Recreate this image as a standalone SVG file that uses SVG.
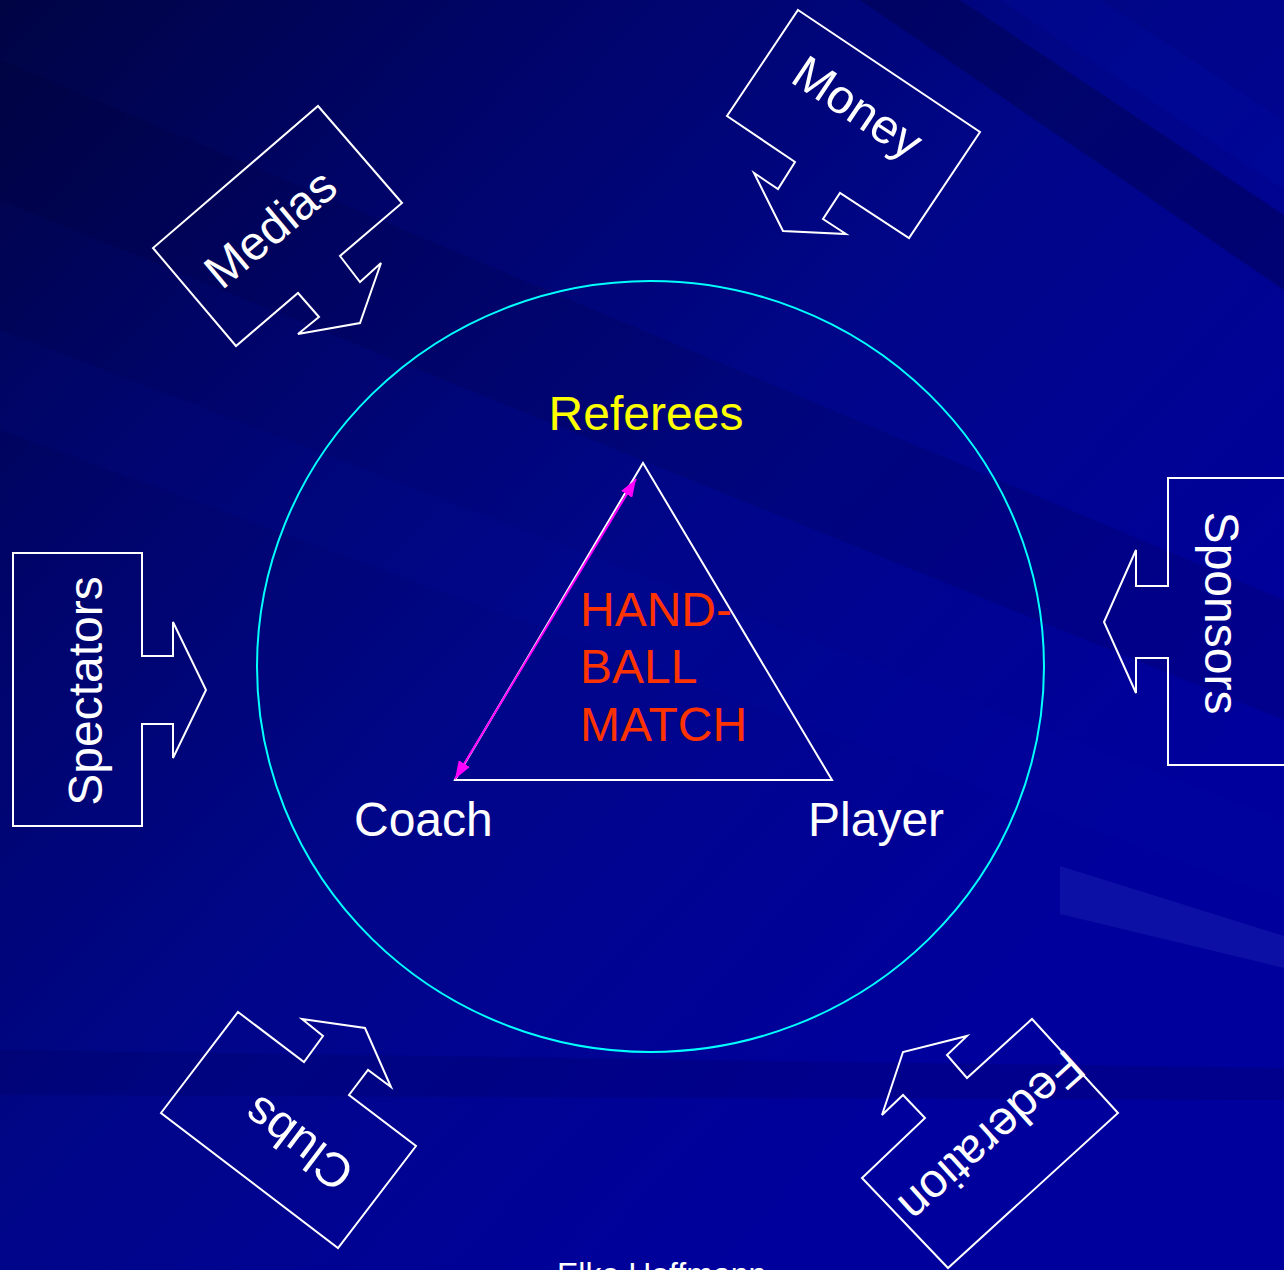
<svg xmlns="http://www.w3.org/2000/svg" width="1284" height="1270" viewBox="0 0 1284 1270">
<defs>
<linearGradient id="bg" x1="0" y1="0" x2="0.8" y2="0.75">
<stop offset="0" stop-color="#000444"/>
<stop offset="0.3" stop-color="#00046a"/>
<stop offset="0.6" stop-color="#000688"/>
<stop offset="1" stop-color="#00009c"/>
</linearGradient>
<marker id="mh" viewBox="0 0 14 10" refX="14" refY="5" markerWidth="18" markerHeight="13" markerUnits="userSpaceOnUse" orient="auto-start-reverse">
<path d="M0,0 L14,5 L0,10 z" fill="#ff00ff"/>
</marker>
<style>
.shape{fill:none;stroke:#ffffff;stroke-width:2;stroke-linejoin:miter}
.lbl{font-family:"Liberation Sans",Arial,sans-serif;font-size:48px;fill:#ffffff}
.red{fill:#ff3300}
.yel{fill:#ffff00}
</style>
</defs>
<rect x="0" y="0" width="1284" height="1270" fill="url(#bg)"/>
<g id="streaks">
<polygon points="860,0 960,0 1284,215 1284,290" fill="#000030" opacity="0.3"/>
<polygon points="1000,0 1100,0 1284,120 1284,190" fill="#0010b0" opacity="0.2"/>
<polygon points="0,60 0,200 1284,720 1284,600" fill="#000020" opacity="0.12"/>
<polygon points="0,330 0,430 1284,900 1284,820" fill="#0010b0" opacity="0.1"/>
<polygon points="1060,866 1284,936 1284,968 1060,914" fill="#3040c0" opacity="0.25"/>
<polygon points="0,1050 1284,1068 1284,1100 0,1095" fill="#000050" opacity="0.18"/>
</g>
<g id="center-circle">
<ellipse cx="650.5" cy="666.5" rx="393.5" ry="385.5" fill="none" stroke="#00ffff" stroke-width="2"/>
</g>
<g id="triangle">
<polygon points="643,463 832,780 455,780" fill="none" stroke="#ffffff" stroke-width="2"/>
</g>
<g id="connectors">
<line x1="455" y1="779" x2="636" y2="479" stroke="#ff00ff" stroke-width="2" marker-start="url(#mh)" marker-end="url(#mh)"/>
</g>
<g id="referees"><text class="lbl yel" x="646" y="430" text-anchor="middle">Referees</text></g>
<g id="coach"><text class="lbl" x="354" y="836">Coach</text></g>
<g id="player"><text class="lbl" x="808" y="836">Player</text></g>
<g id="handball-match">
<text class="lbl red" x="580" y="626">HAND-</text>
<text class="lbl red" x="580" y="683">BALL</text>
<text class="lbl red" x="580" y="741">MATCH</text>
</g>
<g id="medias">
<polygon class="shape" points="318,106 402,203 340,256 360,282 381,263 360,323 298,334 319,317 298,293 236,346 153,248"/>
<g transform="translate(270,228) rotate(-40)"><text class="lbl" x="0" y="17" text-anchor="middle">Medias</text></g>
</g>
<g id="money">
<polygon class="shape" points="798,10 980,132 909,238 840,193 823,219 846,234 783,231 754,173 778,189 795,162 727,116"/>
<g transform="translate(858,107) rotate(33.8)"><text class="lbl" x="0" y="17" text-anchor="middle">Money</text></g>
</g>
<g id="spectators">
<polygon class="shape" points="13,553 142,553 142,656 173,656 173,622 206,690 173,758 173,724 142,724 142,826 13,826"/>
<g transform="translate(102,691) rotate(-90)"><text class="lbl" x="0" y="0" text-anchor="middle">Spectators</text></g>
</g>
<g id="sponsors">
<polygon class="shape" points="1300,478 1168,478 1168,586 1136,586 1136,550 1104,622 1136,693 1136,658 1168,658 1168,765 1300,765"/>
<g transform="translate(1205,613) rotate(90)"><text class="lbl" x="0" y="0" text-anchor="middle">Sponsors</text></g>
</g>
<g id="clubs">
<polygon class="shape" points="238,1012 304,1062 323,1036 302,1019 365,1028 391,1087 368,1070 349,1095 416,1146 338,1248 161,1113"/>
<g transform="translate(298,1144) rotate(217)"><text class="lbl" x="0" y="17" text-anchor="middle">Clubs</text></g>
</g>
<g id="federation">
<polygon class="shape" points="1032,1019 1118,1113 948,1268 862,1178 925,1118 903,1095 882,1115 903,1052 967,1036 947,1055 967,1078"/>
<g transform="translate(992,1137) rotate(138)"><text class="lbl" x="0" y="17" text-anchor="middle">Federation</text></g>
</g>
<g id="footer"><text class="lbl" style="font-size:32px" x="557" y="1285">Elke Hoffmann</text></g>
</svg>
